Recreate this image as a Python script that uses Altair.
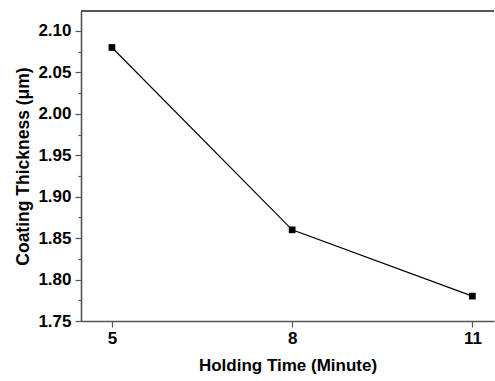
import altair as alt
import pandas as pd

holding_time = [5, 8, 11]
thickness = [2.08, 1.86, 1.78]
y_major = [1.75, 1.80, 1.85, 1.90, 1.95, 2.00, 2.05, 2.10]
y_minor = [1.775, 1.825, 1.875, 1.925, 1.975, 2.025, 2.075]
x_ticks = [5, 8, 11]

df = pd.DataFrame({"t": holding_time, "c": thickness})

FONT = "Liberation Sans"
AX = "#555555"
W, H = 413, 310

xscale = alt.Scale(domain=[4.485, 11.36], nice=False, zero=False)
yscale = alt.Scale(domain=[1.75, 2.124], nice=False, zero=False)

xaxis = alt.Axis(values=x_ticks, format="d", title="Holding Time (Minute)",
                 grid=False, tickSize=6, tickColor=AX, tickWidth=1.2,
                 domainColor=AX, domainWidth=1.6, labelFontSize=17,
                 labelFontWeight="bold", labelFont=FONT, labelColor="black",
                 labelPadding=3, titleFont=FONT, titleFontSize=17,
                 titleFontWeight="bold", titleColor="black", titlePadding=11)
yaxis = alt.Axis(values=y_major, format=".2f", title="Coating Thickness (μm)",
                 grid=False, tickSize=6, tickColor=AX, tickWidth=1.2,
                 domainColor=AX, domainWidth=1.6, labelFontSize=17,
                 labelFontWeight="bold", labelFont=FONT, labelColor="black",
                 labelPadding=4, titleFont=FONT, titleFontSize=17.5,
                 titleFontWeight="bold", titleColor="black", titlePadding=5,
                 orient="left")
yminor = alt.Axis(values=y_minor, labels=False, title=None, grid=False,
                  tickSize=3, tickColor=AX, tickWidth=1.2, domain=False,
                  orient="left")

base = alt.Chart(df)
line = base.mark_line(color="black", strokeWidth=1.2).encode(
    x=alt.X("t:Q", scale=xscale, axis=xaxis),
    y=alt.Y("c:Q", scale=yscale, axis=yaxis),
)
pts = base.mark_square(color="black", size=45, opacity=1).encode(
    x=alt.X("t:Q", scale=xscale, axis=xaxis),
    y=alt.Y("c:Q", scale=yscale, axis=yminor),
)
top = alt.Chart(df).mark_rule(color=AX, strokeWidth=1.6).encode(
    x=alt.value(0), x2=alt.value(W), y=alt.value(0)
)

chart = alt.layer(line, pts, top).resolve_axis(y="independent").properties(
    width=W, height=H,
    padding={"left": 81, "top": 11, "right": 1, "bottom": 60},
    autosize=alt.AutoSizeParams(type="none"),
).configure_view(stroke=None)

chart.save("out.html", embed_options={"renderer": "svg", "actions": False})
